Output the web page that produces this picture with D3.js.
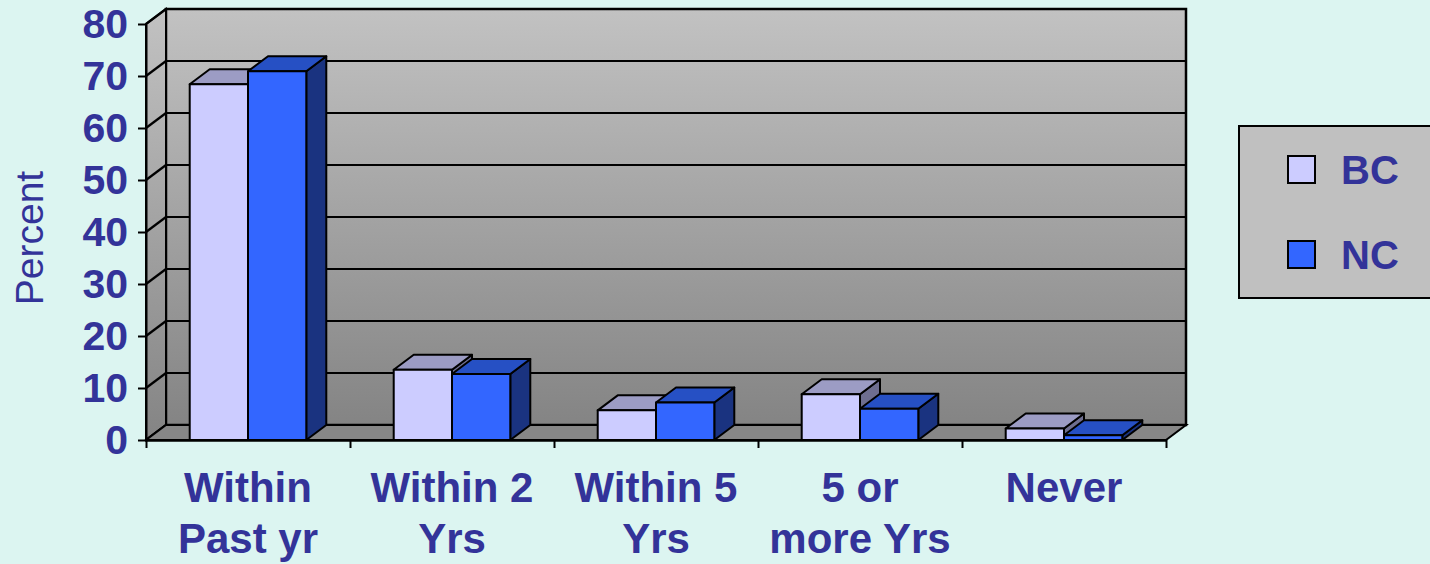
<!DOCTYPE html>
<html>
<head>
<meta charset="utf-8">
<script src="https://cdn.jsdelivr.net/npm/d3@7"></script>
<style>
  html, body { margin: 0; padding: 0; background: #DCF5F1; }
  svg { display: block; }
  text { font-family: "Liberation Sans", Arial, sans-serif; fill: #333399; }
</style>
</head>
<body>
<svg id="chart" width="1430" height="564"></svg>
<script>
// Percent of respondents by time since last visit
const categories = ["Within Past yr", "Within 2 Yrs", "Within 5 Yrs", "5 or more Yrs", "Never"];
const categoryLines = [["Within", "Past yr"], ["Within 2", "Yrs"], ["Within 5", "Yrs"], ["5 or", "more Yrs"], ["Never"]];
const seriesNames = ["BC", "NC"];
const bcValues = [68.4, 13.5, 5.7, 8.8, 2.2];
const ncValues = [70.9, 12.7, 7.2, 6.0, 0.9];
const yTicks = [0, 10, 20, 30, 40, 50, 60, 70, 80];

const palette = {
  BC: { front: "#CCCCFF", top: "#9C9CC4", side: "#6E6E90" },
  NC: { front: "#3366FF", top: "#2650C4", side: "#1A3380" }
};

const svg = d3.select("#chart");
const plotLeft = 146, plotRight = 1166, plotBottom = 440, plotTop = 24;
const depthX = 20, depthY = -15;

const y = d3.scaleLinear().domain([0, 80]).range([plotBottom, plotTop]);
const x0 = d3.scaleBand().domain(categories).range([plotLeft, plotRight]).padding(0);
const x1 = d3.scaleBand().domain(seriesNames).range([0, x0.bandwidth()]).paddingInner(0).paddingOuter(0.75);

// wall gradient
const defs = svg.append("defs");
const grad = defs.append("linearGradient").attr("id", "wall")
  .attr("x1", 0).attr("y1", 0).attr("x2", 0).attr("y2", 1);
grad.append("stop").attr("offset", "0%").attr("stop-color", "#C2C2C2");
grad.append("stop").attr("offset", "100%").attr("stop-color", "#848484");

const walls = svg.append("g");
// back wall
walls.append("rect")
  .attr("x", plotLeft + depthX).attr("y", plotTop + depthY)
  .attr("width", plotRight - plotLeft).attr("height", plotBottom - plotTop)
  .attr("fill", "url(#wall)").attr("stroke", "#000").attr("stroke-width", 2.5);
// side wall
walls.append("polygon")
  .attr("points", [[plotLeft, plotTop], [plotLeft + depthX, plotTop + depthY], [plotLeft + depthX, plotBottom + depthY], [plotLeft, plotBottom]].join(" "))
  .attr("fill", "url(#wall)").attr("stroke", "#000").attr("stroke-width", 2);

// gridlines on back and side walls
const grid = svg.append("g").attr("stroke", "#000").attr("stroke-width", 2.2);
yTicks.forEach(t => {
  grid.append("line")
    .attr("x1", plotLeft + depthX).attr("x2", plotRight + depthX)
    .attr("y1", y(t) + depthY).attr("y2", y(t) + depthY);
  grid.append("line")
    .attr("x1", plotLeft).attr("x2", plotLeft + depthX)
    .attr("y1", y(t)).attr("y2", y(t) + depthY);
});

// floor
svg.append("polygon")
  .attr("points", [[plotLeft, plotBottom], [plotLeft + depthX, plotBottom + depthY], [plotRight + depthX, plotBottom + depthY], [plotRight, plotBottom]].join(" "))
  .attr("fill", "#878787").attr("stroke", "#000").attr("stroke-width", 2);

// bars
const rows = categories.map((c, i) => ({ cat: c, values: [
  { key: "BC", value: bcValues[i] },
  { key: "NC", value: ncValues[i] }
]}));

const barGroups = svg.append("g").selectAll("g").data(rows).join("g")
  .attr("transform", d => `translate(${x0(d.cat)},0)`);

barGroups.each(function(row) {
  const g = d3.select(this);
  row.values.forEach(v => {
    const xl = x1(v.key), w = x1.bandwidth();
    const yt = y(v.value), yb = y(0);
    const col = palette[v.key];
    const b = g.append("g").attr("stroke", "#000").attr("stroke-width", 2).attr("stroke-linejoin", "round");
    b.append("polygon")
      .attr("points", [[xl + w, yt], [xl + w + depthX, yt + depthY], [xl + w + depthX, yb + depthY], [xl + w, yb]].join(" "))
      .attr("fill", col.side);
    b.append("polygon")
      .attr("points", [[xl, yt], [xl + depthX, yt + depthY], [xl + w + depthX, yt + depthY], [xl + w, yt]].join(" "))
      .attr("fill", col.top);
    b.append("rect")
      .attr("x", xl).attr("y", yt).attr("width", w).attr("height", yb - yt)
      .attr("fill", col.front);
  });
});

// y axis
const yAxis = svg.append("g").attr("transform", `translate(${plotLeft},0)`)
  .call(d3.axisLeft(y).tickValues(yTicks).tickSize(8).tickSizeOuter(0).tickPadding(10));
yAxis.select(".domain").attr("stroke", "#000").attr("stroke-width", 2);
yAxis.selectAll(".tick line").attr("stroke", "#000").attr("stroke-width", 2);
yAxis.selectAll(".tick text")
  .style("font-family", '"Liberation Sans", Arial, sans-serif')
  .style("font-size", "41px").style("font-weight", "bold").attr("fill", "#333399");

// x axis with ticks at category boundaries
const xb = d3.scaleLinear().domain([0, categories.length]).range([plotLeft, plotRight]);
const xAxis = svg.append("g").attr("transform", `translate(0,${plotBottom})`)
  .call(d3.axisBottom(xb).tickValues(d3.range(categories.length + 1)).tickSize(8).tickSizeOuter(0).tickFormat(""));
xAxis.select(".domain").attr("stroke", "#000").attr("stroke-width", 2.5);
xAxis.selectAll(".tick line").attr("stroke", "#000").attr("stroke-width", 2);

// category labels
const catLabels = svg.append("g");
categories.forEach((c, i) => {
  const cx = x0(c) + x0.bandwidth() / 2;
  const t = catLabels.append("text")
    .attr("x", cx).attr("y", 502)
    .attr("text-anchor", "middle")
    .style("font-size", "42px").style("font-weight", "bold");
  categoryLines[i].forEach((line, j) => {
    t.append("tspan").attr("x", cx).attr("y", 502 + j * 51).text(line);
  });
});

// y axis title
svg.append("text")
  .attr("transform", "translate(43,238) rotate(-90)")
  .attr("text-anchor", "middle")
  .style("font-size", "39px")
  .text("Percent");

// legend
const legend = svg.append("g");
legend.append("rect")
  .attr("x", 1239).attr("y", 126).attr("width", 200).attr("height", 172)
  .attr("fill", "#C0C0C0").attr("stroke", "#000").attr("stroke-width", 2);
seriesNames.forEach((s, i) => {
  const yy = 156 + i * 85;
  legend.append("rect")
    .attr("x", 1288).attr("y", yy).attr("width", 27).attr("height", 27)
    .attr("fill", palette[s].front).attr("stroke", "#000").attr("stroke-width", 2);
  legend.append("text")
    .attr("x", 1341).attr("y", yy + 28)
    .style("font-size", "40px").style("font-weight", "bold")
    .text(s);
});
</script>
</body>
</html>
